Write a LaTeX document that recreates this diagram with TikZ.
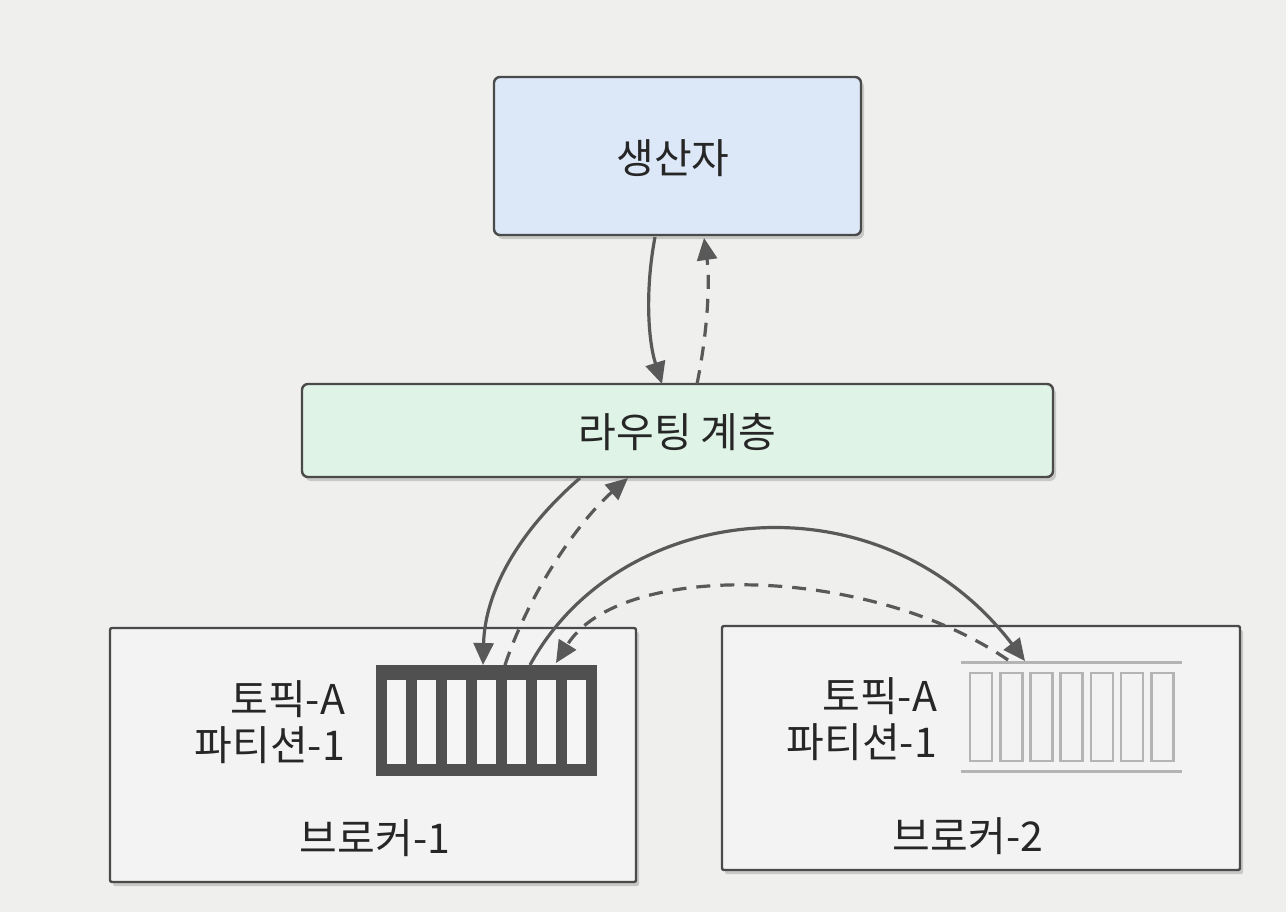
\documentclass[tikz,border=0pt]{standalone}
\usepackage{fontspec}
\setmainfont{Noto Sans CJK KR}
\usetikzlibrary{shadows,arrows.meta}
\definecolor{bg}{HTML}{EFEFED}
\definecolor{edge}{HTML}{4A4A4A}
\definecolor{partfill}{HTML}{505050}
\definecolor{prodfill}{HTML}{DCE8F8}
\definecolor{routefill}{HTML}{DFF3E6}
\definecolor{brokfill}{HTML}{F3F3F3}
\definecolor{arr}{HTML}{595959}
\definecolor{txt}{HTML}{262626}
\definecolor{pale}{HTML}{B4B4B4}
\tikzset{
  boxstyle/.style={draw=edge, line width=1.2pt, rounded corners=3pt, inner sep=0pt,
    drop shadow={opacity=0.35, shadow xshift=1.5pt, shadow yshift=-2pt}},
  lbl/.style={font=\fontsize{20.5}{23}\selectfont, text=txt},
  conn/.style={draw=arr, line width=1.6pt, -{Triangle[length=11pt,width=10pt]}},
  dconn/.style={conn, dash pattern=on 7pt off 5pt},
}
\begin{document}
\begin{tikzpicture}[x=0.5pt,y=-0.5pt]
\fill[bg] (0,0) rectangle (1286,912);
\useasboundingbox (0,0) rectangle (1286,912);

\node[boxstyle, fill=prodfill, minimum width=183.5pt, minimum height=79pt] (prod) at (677.5,156) {};
\node[lbl] (prodt) at (673,158) {생산자};

\node[boxstyle, fill=routefill, minimum width=375.5pt, minimum height=46.5pt] (route) at (677.5,430.5) {};
\node[lbl] (routet) at (677.5,432) {라우팅 계층};

\node[boxstyle, fill=brokfill, minimum width=263pt, minimum height=127pt, rounded corners=1pt] (b1) at (373,755) {};
\node[boxstyle, fill=brokfill, minimum width=259pt, minimum height=122pt, rounded corners=1pt] (b2) at (981,748) {};

\node[lbl, align=right, anchor=east] (t1) at (352,722) {토픽-A\\파티션-1};
\node[lbl, align=right, anchor=east] (t2) at (944,719) {토픽-A\\파티션-1};
\node[lbl] (b1t) at (375,838) {브로커-1};
\node[lbl] (b2t) at (968,836) {브로커-2};

% partition 1 (active)
\node[fill=partfill, minimum width=110.5pt, minimum height=55.5pt, inner sep=0pt] (p1) at (486.5,720.5) {};
\foreach \i in {0,...,6}{
  \fill[white!96!black] (386.5+30*\i,680) rectangle (405.5+30*\i,764);
}
% partition 2 (replica)
\node[minimum width=110.5pt, minimum height=54pt, inner sep=0pt] (p2) at (1071.5,717) {};
\draw[pale, line width=1.3pt] (p2.north west) -- (p2.north east);
\draw[pale, line width=1.3pt] (p2.south west) -- (p2.south east);
\foreach \i in {0,...,6}{
  \draw[pale, line width=1.3pt] (970+30.2*\i,673) rectangle (992+30.2*\i,761);
}

% endpoints
\coordinate (ps1) at (655,237);
\coordinate (rt1) at (662,384);
\coordinate (rt2) at (697,384);
\coordinate (ps2) at (704,238);
\coordinate (rb1) at (580,478);
\coordinate (p1a) at (483,665);
\coordinate (p1b) at (505,665);
\coordinate (rb2) at (628,478);
\coordinate (p1c) at (530,665);
\coordinate (p2a) at (1025,661);
\coordinate (p2b) at (1008,660);
\coordinate (p1d) at (556,663);

\draw[conn] (ps1) .. controls (645,290) and (648,340) .. (rt1);
\draw[dconn] (rt2) .. controls (708,330) and (710,280) .. (ps2);
\draw[conn] (rb1) .. controls (520,530) and (485,590) .. (p1a);
\draw[dconn] (p1b) .. controls (530,590) and (580,520) .. (rb2);
\draw[conn] (p1c) .. controls (620,500) and (880,472) .. (p2a);
\draw[dconn] (p2b) .. controls (870,565) and (620,560) .. (p1d);
\end{tikzpicture}
\end{document}
